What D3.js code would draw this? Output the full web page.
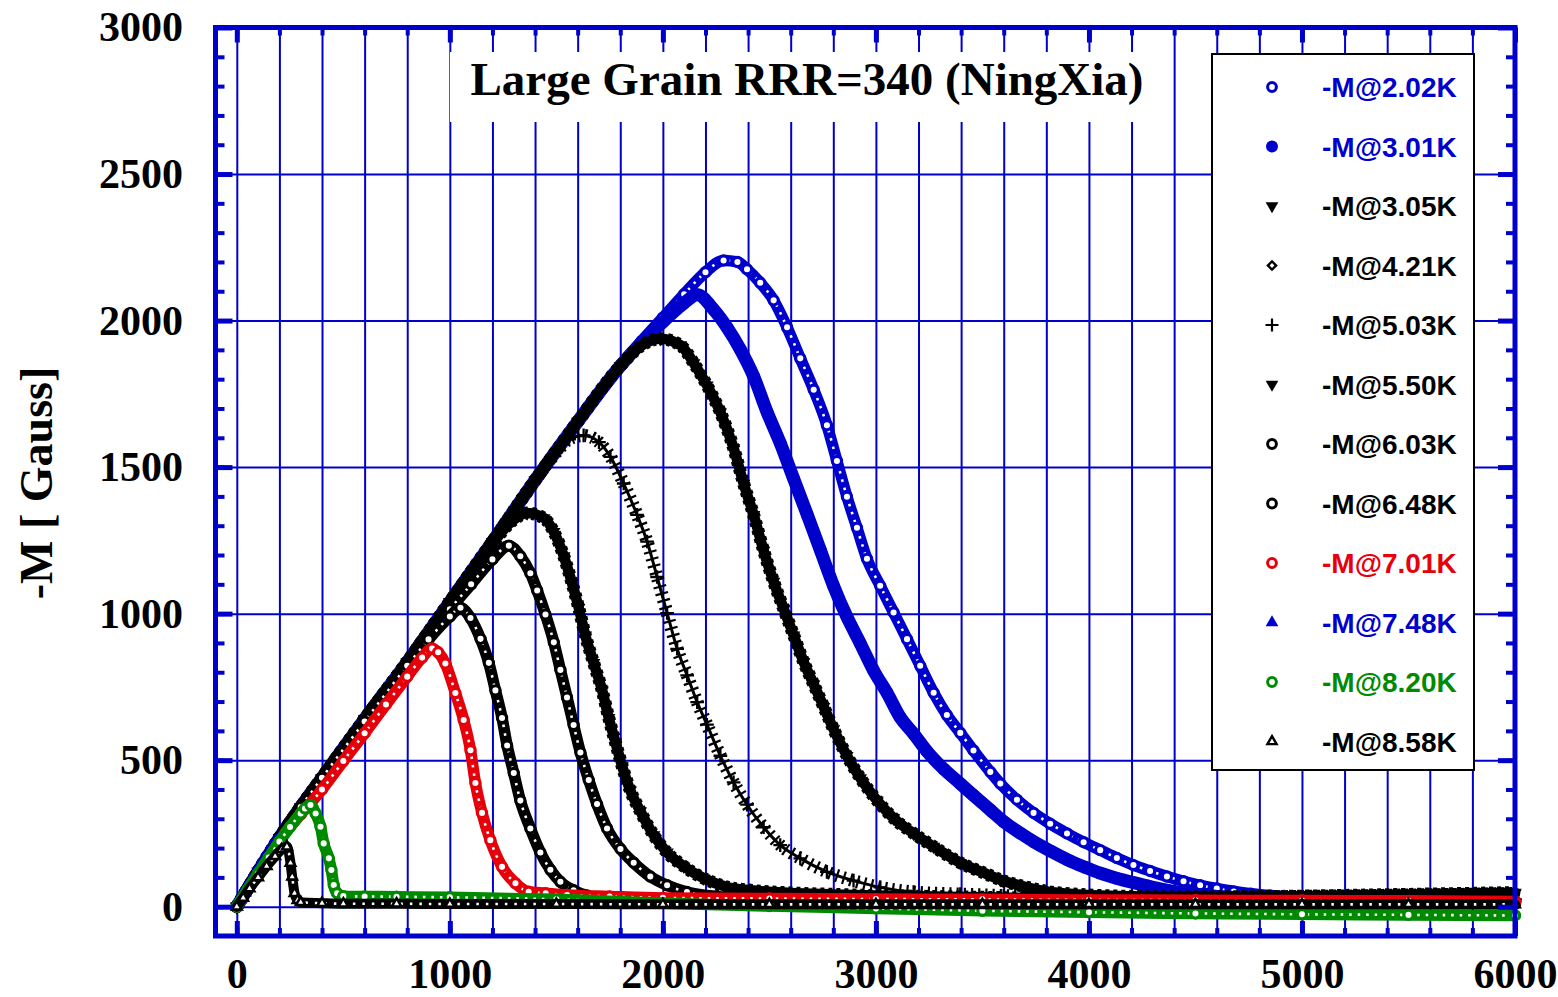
<!DOCTYPE html>
<html>
<head>
<meta charset="utf-8">
<script src="https://cdn.jsdelivr.net/npm/d3@7"></script>
<style>
  html, body { margin: 0; padding: 0; background: #ffffff; }
  svg { display: block; }
</style>
</head>
<body>
<svg id="chart" width="1558" height="997"></svg>
<script>
// ---------------- DATA ----------------
const titleText = "Large Grain RRR=340 (NingXia)";
const yLabelText = "-M [ Gauss]";
const xTickValues = [0, 1000, 2000, 3000, 4000, 5000, 6000];
const yTickValues = [0, 500, 1000, 1500, 2000, 2500, 3000];

const seriesNames = ["-M@2.02K", "-M@3.01K", "-M@3.05K", "-M@4.21K", "-M@5.03K", "-M@5.50K",
                     "-M@6.03K", "-M@6.48K", "-M@7.01K", "-M@7.48K", "-M@8.20K", "-M@8.58K"];
const seriesColors = ["blue", "blue", "black", "black", "black", "black",
                      "black", "black", "red", "blue", "green", "black"];
const seriesShapes = ["ring", "dot", "triDown", "diamond", "plus", "triDown",
                      "ring", "ring", "ring", "triUp", "ring", "triOpen"];

// H [Oe] and -M [Gauss] per series
const h202 = [0,100,200,300,400,600,800,1000,1200,1400,1600,1800,1900,2000,2100,2200,2285,2350,2395,2457,
  2520,2583,2645,2708,2770,2817,2864,2911,2958,3020,3083,3146,3208,3271,3333,3396,3458,3537,3584,3662,
  3740,3818,3897,3975,4053,4131,4209,4287,4366,4444,4522,4600,4680,4760,4850,4950,5100,5300,5500,5750,6000];
const m202 = [0,120,235,340,440,640,835,1040,1245,1455,1655,1845,1930,2010,2090,2165,2205,2200,2175,2129,
  2069,1977,1871,1764,1643,1521,1399,1293,1187,1095,1004,913,822,730,654,593,533,460,420,365,
  320,283,250,220,193,166,142,122,103,87,73,62,52,44,38,33,28,25,22,20,18];

const h301 = [0,100,200,300,400,600,800,1000,1200,1400,1600,1800,1900,2000,2100,2161,2238,2301,2364,2426,
  2489,2551,2614,2677,2739,2801,2864,2927,2989,3052,3115,3177,3240,3318,3396,3458,3537,3600,3680,3740,
  3820,3900,3980,4050,4130,4210,4290,4370,4450,4530,4610,4700,4850,5000,5250,5500,5750,6000];
const m301 = [0,120,235,340,440,640,835,1040,1245,1455,1655,1845,1925,1995,2060,2088,2038,1977,1901,1810,
  1688,1582,1460,1339,1217,1095,989,898,806,730,645,590,530,470,420,380,330,290,250,222,
  190,160,135,115,97,82,68,56,47,40,35,30,26,24,22,20,19,18];

const h305 = [0,100,200,300,400,600,800,1000,1200,1400,1600,1800,1900,1988,2082,2145,2207,2270,2332,2379,
  2426,2473,2520,2567,2614,2661,2708,2755,2801,2864,2927,3005,3083,3177,3271,3396,3521,3584,3700,3803,
  3950,4100,4300,4500,4750,5000,5250,5500,5750,6000];
const m305 = [0,120,235,340,440,640,835,1040,1245,1455,1655,1845,1915,1938,1916,1855,1779,1687,1565,1444,
  1337,1215,1109,1017,926,835,759,682,606,515,439,363,302,250,205,150,111,92,68,52,
  42,37,34,33,34,36,39,42,45,48];

const h421 = [];
const m421 = [];

const h503 = [0,100,200,300,400,600,800,1000,1200,1400,1500,1560,1628,1700,1754,1816,1879,1926,1973,2020,
  2067,2114,2161,2207,2270,2332,2395,2473,2551,2645,2770,2895,3021,3177,3396,3600,3800,4000,4250,4500,
  4750,5000,5250,5500,5750,6000];
const m503 = [0,120,235,340,440,640,835,1040,1245,1455,1550,1595,1608,1585,1535,1444,1337,1246,1125,1002,
  880,789,698,621,515,424,348,271,210,165,119,89,66,50,43,38,35,32,30,28,
  27,27,26,26,25,25];

const h550 = [0,100,200,300,400,600,800,1000,1200,1300,1363,1441,1488,1535,1574,1605,1636,1675,1715,1746,
  1777,1809,1847,1894,1957,2020,2098,2192,2301,2411,2600,2800,3000,3250,3500,3750,4000,4250,4500,4750,
  5000,5250,5500,5750,6000];
const m550 = [0,120,235,340,440,640,835,1040,1240,1320,1343,1326,1279,1196,1103,1020,926,832,738,644,
  562,479,397,326,244,185,138,97,67,56,47,42,38,35,32,30,30,31,32,33,
  35,37,40,42,45];

const h603 = [0,100,200,300,400,600,800,1000,1100,1200,1277,1331,1378,1410,1449,1488,1519,1550,1581,1613,
  1652,1691,1738,1801,1863,1941,2020,2113,2250,2500,2750,3000,3500,4000,4500,5000,5500,6000];
const m603 = [0,120,235,340,440,635,825,1015,1100,1185,1232,1196,1138,1079,997,902,808,714,620,526,
  432,350,267,197,150,103,73,50,35,25,20,18,16,15,15,15,16,16];

const h648 = [0,100,200,300,400,600,800,900,1000,1050,1097,1144,1183,1214,1245,1269,1300,1331,1378,1425,
  1472,1519,1581,1644,1750,2000,2500,3000,3500,4000,4500,5000,5500,6000];
const m648 = [0,120,235,340,440,632,822,912,990,1020,985,914,832,738,644,550,456,362,267,185,
  126,85,56,38,28,20,15,12,10,10,10,10,10,10];

const h701 = [0,100,200,300,400,500,600,700,800,870,917,945,979,1026,1065,1097,1120,1151,1190,1245,
  1308,1370,1450,1550,1750,2000,2500,3000,3500,4000,4500,5000,5500,6000];
const m701 = [0,115,227,315,400,497,592,690,785,850,881,868,830,729,637,534,422,320,227,136,
  80,51,46,40,35,30,28,26,25,23,22,21,20,18];

const h748 = [0,40,80,120,160,200];
const m748 = [0,48,96,145,190,235];

const h820 = [0,50,100,150,200,250,300,320,346,370,393,408,432,444,455,471,500,600,750,1000,
  1500,2000,2500,3000,3500,4000,4500,5000,5500,6000];
const m820 = [0,58,113,168,222,272,318,335,347,318,273,216,165,125,74,46,36,35,34,32,
  25,12,2,-6,-14,-19,-23,-26,-28,-30];

const h858 = [0,30,60,100,140,180,210,235,252,260,271,285,300,400,500,750,1000,1500,2000,2500,
  3000,3500,4000,4500,5000,5500,6000];
const m858 = [0,30,62,100,138,172,195,205,149,102,46,22,15,12,10,10,9,9,8,8,
  8,8,8,8,8,8,8];

const seriesH = [h202, h301, h305, h421, h503, h550, h603, h648, h701, h748, h820, h858];
const seriesM = [m202, m301, m305, m421, m503, m550, m603, m648, m701, m748, m820, m858];

// ---------------- DRAWING ----------------
const COLORS = { blue: "#0000cc", black: "#000000", red: "#e6000a", green: "#008a00" };
const GRID = "#0000cc";
const SERIF = "'Liberation Serif','Times New Roman',Times,serif";
const SANS = "'Liberation Sans',Arial,Helvetica,sans-serif";

const svg = d3.select("#chart");
const L = 215.5, R = 1515, T = 27.5, B = 936;
const x = d3.scaleLinear().domain([-100, 6000]).range([L, R]);
const y = d3.scaleLinear().domain([-100, 3000]).range([B, T]);

svg.append("rect").attr("width", 1558).attr("height", 997).attr("fill", "#fff");

// grid lines (vertical every 200 Oe, horizontal every 500 G)
const gridX = d3.range(0, 5801, 200);
const gridY = yTickValues.filter(v => v < 3000);
svg.append("g").attr("transform", `translate(0,${B})`)
  .call(d3.axisBottom(x).tickValues(gridX).tickSize(-(B - T)).tickFormat(""))
  .call(g => { g.select(".domain").remove(); g.selectAll("line").attr("stroke", GRID).attr("stroke-width", 2); });
svg.append("g").attr("transform", `translate(${L},0)`)
  .call(d3.axisLeft(y).tickValues(gridY).tickSize(-(R - L)).tickFormat(""))
  .call(g => { g.select(".domain").remove(); g.selectAll("line").attr("stroke", GRID).attr("stroke-width", 2); });

function plusPath(r) {
  const p = d3.path();
  p.moveTo(-r, 0); p.lineTo(r, 0); p.moveTo(0, -r); p.lineTo(0, r);
  return p.toString();
}

// marker drawing helper
function marker(g, shape, color, cx, cy, k) {
  const c = COLORS[color];
  if (shape === "ring") {
    g.append("circle").attr("cx", cx).attr("cy", cy).attr("r", 4.4 * k)
      .attr("fill", "#fff").attr("stroke", c).attr("stroke-width", 3 * k);
  } else if (shape === "dot") {
    g.append("circle").attr("cx", cx).attr("cy", cy).attr("r", 6 * k).attr("fill", c);
  } else if (shape === "triDown") {
    g.append("path").attr("d", d3.symbol(d3.symbolTriangle, 70 * k * k)())
      .attr("transform", `translate(${cx},${cy}) rotate(180)`).attr("fill", c);
  } else if (shape === "triUp") {
    g.append("path").attr("d", d3.symbol(d3.symbolTriangle, 70 * k * k)())
      .attr("transform", `translate(${cx},${cy})`).attr("fill", c);
  } else if (shape === "triOpen") {
    g.append("path").attr("d", d3.symbol(d3.symbolTriangle2 || d3.symbolTriangle, 60 * k * k)())
      .attr("transform", `translate(${cx},${cy})`).attr("fill", "#fff").attr("stroke", c).attr("stroke-width", 2.4 * k);
  } else if (shape === "diamond") {
    g.append("path").attr("d", d3.symbol(d3.symbolSquare, 34 * k * k)())
      .attr("transform", `translate(${cx},${cy}) rotate(45)`).attr("fill", "#fff").attr("stroke", c).attr("stroke-width", 2.4 * k);
  } else if (shape === "plus") {
    g.append("path").attr("d", plusPath(6.5 * k))
      .attr("transform", `translate(${cx},${cy})`).attr("fill", "none").attr("stroke", c).attr("stroke-width", 2.2 * k);
  }
}

// data series
const plot = svg.append("g");
const lineGen = d3.line().x(d => x(d[0])).y(d => y(d[1])).curve(d3.curveMonotoneX);
seriesNames.forEach((name, i) => {
  const pts = seriesH[i].map((h, j) => [h, seriesM[i][j]]);
  if (!pts.length) return;
  const c = COLORS[seriesColors[i]];
  const shape = seriesShapes[i];
  const g = plot.append("g").attr("class", "series");
  const band = (w, col, dash) => {
    const p = g.append("path").attr("d", lineGen(pts)).attr("fill", "none")
      .attr("stroke", col).attr("stroke-width", w)
      .attr("stroke-linejoin", "round").attr("stroke-linecap", dash ? "butt" : "round");
    if (dash) p.attr("stroke-dasharray", dash);
  };
  if (shape === "ring") { band(11.5, c); band(2.6, "#fff", "2.5 6"); }
  else if (shape === "dot") { band(13, c); }
  else if (shape === "triDown" || shape === "triUp") { band(10.5, c); band(13, c, "4 4"); }
  else if (shape === "triOpen") { band(10, c); band(2.6, "#fff", "2.5 7"); }
  else if (shape === "plus") { band(3, c); band(13, c, "2.2 5"); }
  pts.forEach(p => marker(g, shape, seriesColors[i], x(p[0]), y(p[1]), 1.05));
});

// title
svg.append("rect").attr("x", 450).attr("y", 52).attr("width", 705).attr("height", 70).attr("fill", "#fff");
svg.append("text").attr("x", 807).attr("y", 95).attr("text-anchor", "middle")
  .attr("font-family", SERIF).attr("font-weight", "bold").attr("font-size", 47).attr("fill", "#000")
  .text(titleText);

// legend
const lg = svg.append("g");
lg.append("rect").attr("x", 1212).attr("y", 54).attr("width", 262).attr("height", 716)
  .attr("fill", "#fff").attr("stroke", "#000").attr("stroke-width", 2);
seriesNames.forEach((name, i) => {
  const cy = 87 + i * 59.5;
  marker(lg, seriesShapes[i], seriesColors[i], 1272, cy, 1.0);
  lg.append("text").attr("x", 1322).attr("y", cy + 10)
    .attr("font-family", SANS).attr("font-weight", "bold").attr("font-size", 28)
    .attr("fill", COLORS[seriesColors[i]]).text(name);
});

// frame
svg.append("rect").attr("x", L).attr("y", T).attr("width", R - L).attr("height", B - T)
  .attr("fill", "none").attr("stroke", GRID).attr("stroke-width", 5);

// ticks (inward) and labels
const minorX = d3.range(0, 6001, 200);
const minorY = d3.range(0, 3001, 100);
function styleTicks(g, w) { g.select(".domain").remove(); g.selectAll(".tick line").attr("stroke", GRID).attr("stroke-width", w); }

svg.append("g").attr("transform", `translate(0,${B})`)
  .call(d3.axisBottom(x).tickValues(minorX).tickSize(-8).tickFormat("")).call(g => styleTicks(g, 4));
svg.append("g").attr("transform", `translate(0,${T})`)
  .call(d3.axisTop(x).tickValues(minorX).tickSize(-8).tickFormat("")).call(g => styleTicks(g, 4));
svg.append("g").attr("transform", `translate(${L},0)`)
  .call(d3.axisLeft(y).tickValues(minorY).tickSize(-9).tickFormat("")).call(g => styleTicks(g, 4));
svg.append("g").attr("transform", `translate(${R},0)`)
  .call(d3.axisRight(y).tickValues(minorY).tickSize(-9).tickFormat("")).call(g => styleTicks(g, 4));

const xAxis = svg.append("g").attr("transform", `translate(0,${B})`)
  .call(d3.axisBottom(x).tickValues(xTickValues).tickSize(-15).tickPadding(22).tickFormat(d3.format("d")));
styleTicks(xAxis, 5);
xAxis.selectAll("text").attr("font-family", SERIF).attr("font-weight", "bold").attr("font-size", 42).attr("fill", "#000");

svg.append("g").attr("transform", `translate(0,${T})`)
  .call(d3.axisTop(x).tickValues(xTickValues).tickSize(-15).tickFormat("")).call(g => styleTicks(g, 5));

const yAxis = svg.append("g").attr("transform", `translate(${L},0)`)
  .call(d3.axisLeft(y).tickValues(yTickValues).tickSize(-17).tickPadding(32.5).tickFormat(d3.format("d")));
styleTicks(yAxis, 5);
yAxis.selectAll("text").attr("font-family", SERIF).attr("font-weight", "bold").attr("font-size", 42).attr("fill", "#000");

svg.append("g").attr("transform", `translate(${R},0)`)
  .call(d3.axisRight(y).tickValues(yTickValues).tickSize(-17).tickFormat("")).call(g => styleTicks(g, 5));

// y label
svg.append("text").attr("transform", "translate(52,483) rotate(-90)").attr("text-anchor", "middle")
  .attr("font-family", SERIF).attr("font-weight", "bold").attr("font-size", 46).attr("fill", "#000")
  .text(yLabelText);
</script>
</body>
</html>
